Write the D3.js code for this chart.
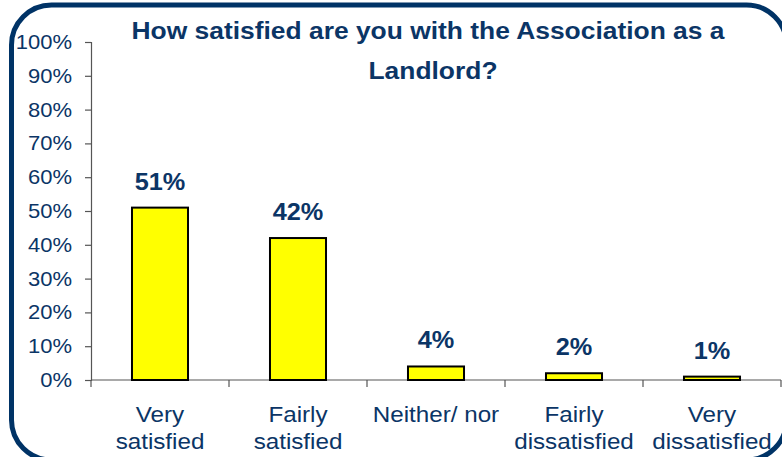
<!DOCTYPE html>
<html>
<head>
<meta charset="utf-8">
<script src="https://cdn.jsdelivr.net/npm/d3@7"></script>
<style>
  html, body { margin: 0; padding: 0; background: #fff; }
  svg { display: block; font-family: "Liberation Sans", Arial, sans-serif; }
</style>
</head>
<body>
<svg id="chart" width="782" height="457"></svg>
<script>
// Survey answers and their share of respondents (%)
const categories = ["Very satisfied", "Fairly satisfied", "Neither/ nor", "Fairly dissatisfied", "Very dissatisfied"];
const categoryLines = [["Very", "satisfied"], ["Fairly", "satisfied"], ["Neither/ nor"], ["Fairly", "dissatisfied"], ["Very", "dissatisfied"]];
const values = [51, 42, 4, 2, 1];
const yTicks = [0, 10, 20, 30, 40, 50, 60, 70, 80, 90, 100];
const titleLines = ["How satisfied are you with the Association as a", "Landlord?"];

const navy = "#0b3566";
const sx = 1.1; // slightly wide lettering
const svg = d3.select("#chart");

// Text placed at (x, y) and widened horizontally
function wideText(g, x, y) {
  return g.append("text").attr("transform", `translate(${x},${y}) scale(${sx},1)`);
}

// Rounded frame around the chart
svg.append("rect")
  .attr("x", 11.5).attr("y", 5)
  .attr("width", 775).attr("height", 455)
  .attr("rx", 40).attr("ry", 40)
  .attr("fill", "#fff")
  .attr("stroke", "#003366")
  .attr("stroke-width", 5);

const plot = { left: 91, right: 781, top: 42, bottom: 380 };

const x = d3.scaleBand()
  .domain(categories)
  .range([plot.left, plot.right])
  .paddingInner(0.594)
  .paddingOuter(0.297);

const y = d3.scaleLinear().domain([0, 100]).range([plot.bottom, plot.top]);

// Y axis
const yAxis = svg.append("g")
  .attr("transform", `translate(${plot.left},0)`)
  .call(d3.axisLeft(y).tickValues(yTicks).tickFormat(d => d + "%").tickSize(6).tickPadding(19));
yAxis.select(".domain").attr("stroke", "#555").attr("stroke-width", 1.2);
yAxis.selectAll(".tick line").attr("stroke", "#555").attr("stroke-width", 1.2);
yAxis.selectAll(".tick text")
  .attr("fill", navy)
  .attr("x", null)
  .attr("dy", null)
  .attr("transform", `translate(-19,6.5) scale(${sx},1)`)
  .style("font-size", "20px");

// X axis with ticks on category boundaries
const bounds = categories.map((c, i) => plot.left + i * (plot.right - plot.left) / categories.length).concat([plot.right]);
const xAxisG = svg.append("g");
xAxisG.append("line")
  .attr("x1", plot.left).attr("x2", plot.right)
  .attr("y1", y(0)).attr("y2", y(0))
  .attr("stroke", "#555").attr("stroke-width", 1.2);
xAxisG.selectAll("line.tk").data(bounds).join("line")
  .attr("class", "tk")
  .attr("x1", d => d).attr("x2", d => d)
  .attr("y1", y(0)).attr("y2", y(0) + 7)
  .attr("stroke", "#555").attr("stroke-width", 1.2);

// Category labels
const catG = svg.append("g");
categories.forEach((c, i) => {
  const cx = x(c) + x.bandwidth() / 2;
  const t = wideText(catG, cx, 422)
    .attr("text-anchor", "middle")
    .attr("fill", navy)
    .style("font-size", "22px");
  categoryLines[i].forEach((ln, j) => {
    t.append("tspan").attr("x", 0).attr("dy", j === 0 ? 0 : 27).text(ln);
  });
});

// Bars
svg.append("g").selectAll("rect").data(values).join("rect")
  .attr("x", (d, i) => x(categories[i]))
  .attr("y", d => y(d))
  .attr("width", x.bandwidth())
  .attr("height", d => y(0) - y(d))
  .attr("fill", "#ffff00")
  .attr("stroke", "#000")
  .attr("stroke-width", 2);

// Value labels
const valG = svg.append("g");
values.forEach((v, i) => {
  wideText(valG, x(categories[i]) + x.bandwidth() / 2, y(v) - 18)
    .attr("text-anchor", "middle")
    .attr("fill", navy)
    .style("font-size", "23px")
    .style("font-weight", "bold")
    .text(v + "%");
});

// Title
const titleG = svg.append("g");
wideText(titleG, 428, 39)
  .attr("text-anchor", "middle").attr("fill", navy)
  .style("font-size", "24px").style("font-weight", "bold")
  .text(titleLines[0]);
wideText(titleG, 433, 79)
  .attr("text-anchor", "middle").attr("fill", navy)
  .style("font-size", "24px").style("font-weight", "bold")
  .text(titleLines[1]);
</script>
</body>
</html>
